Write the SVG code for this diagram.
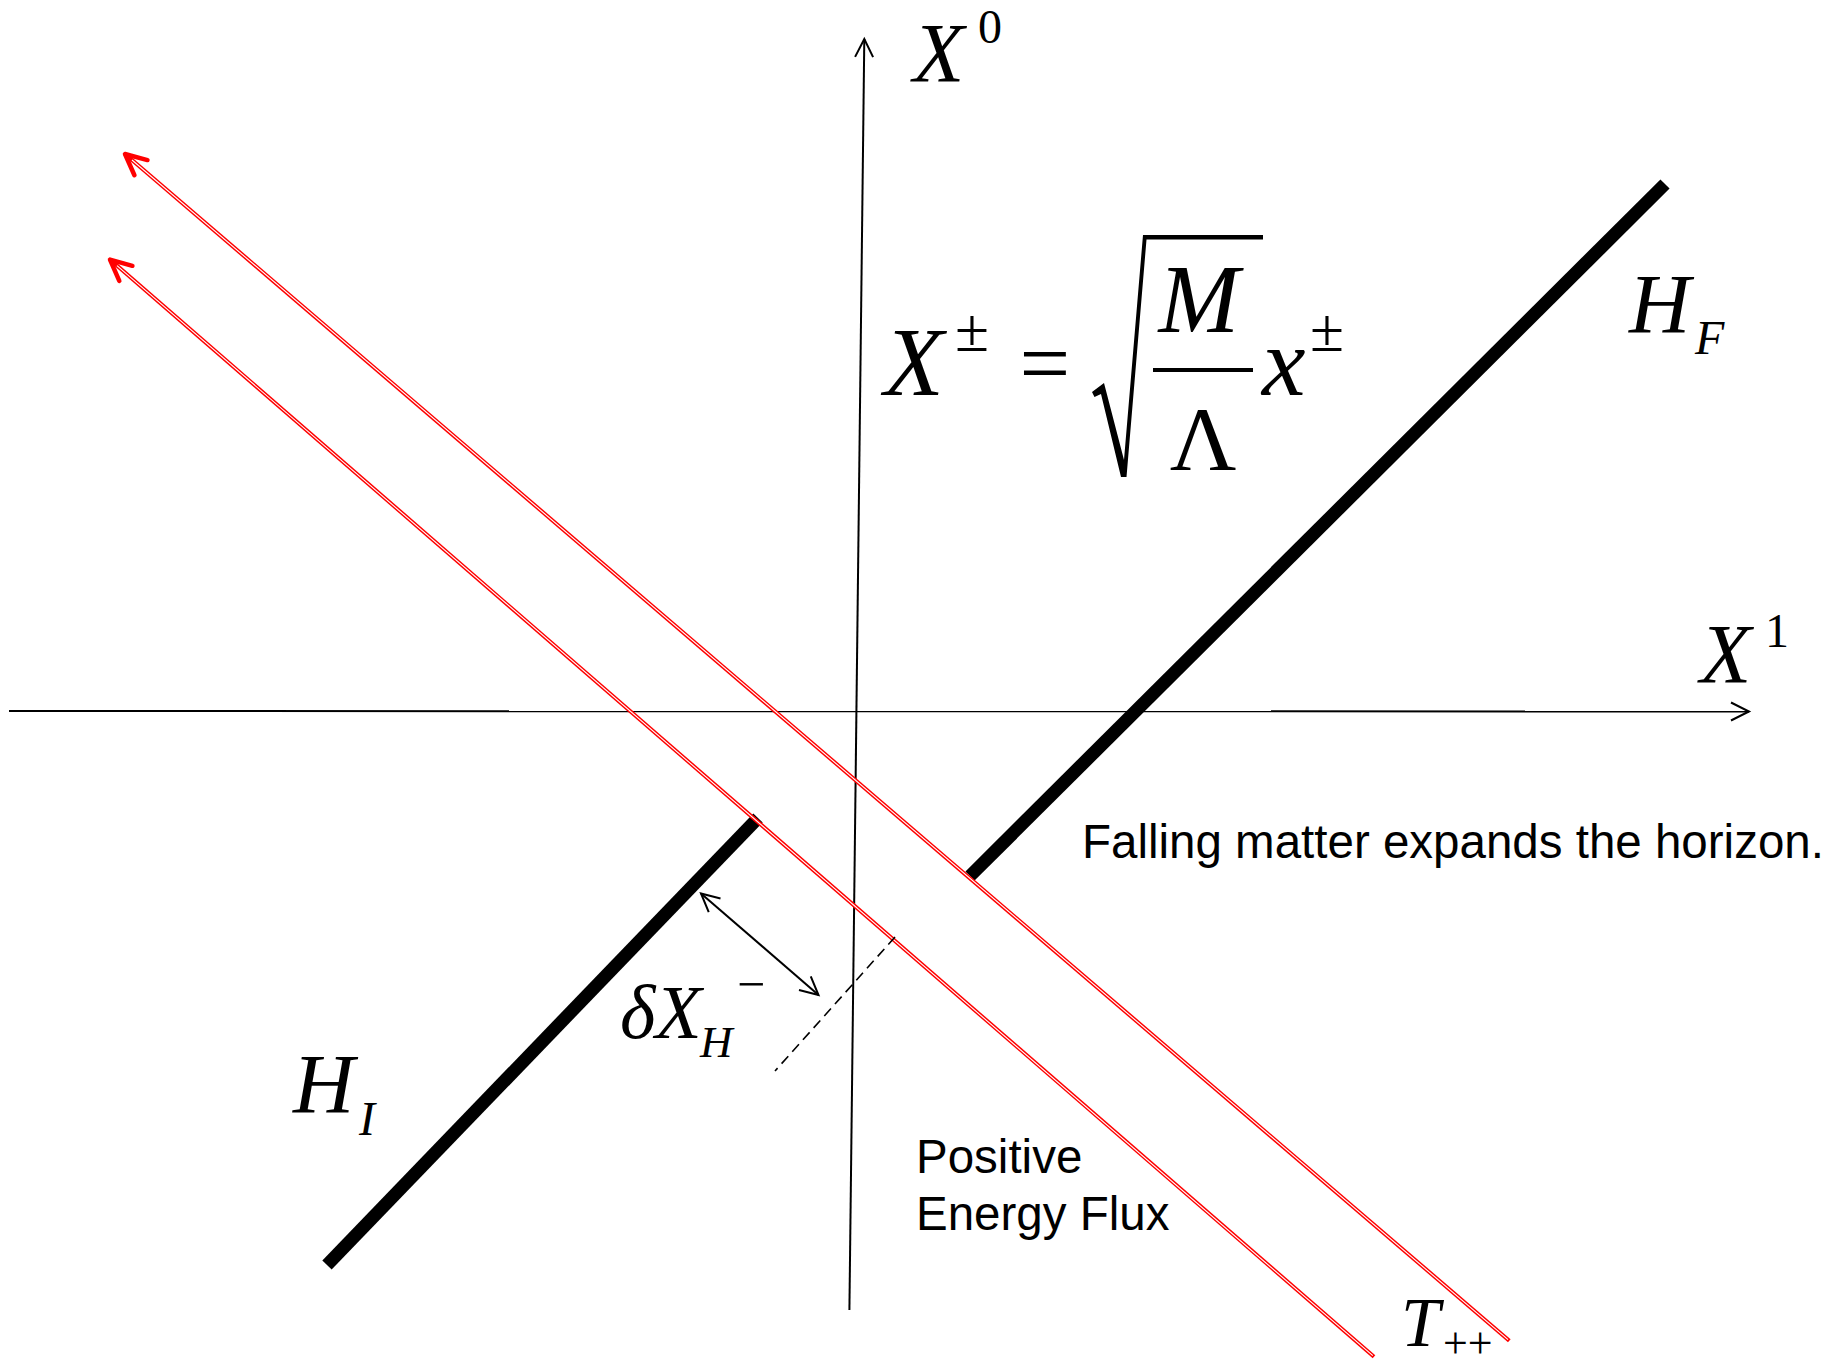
<svg xmlns="http://www.w3.org/2000/svg" width="1837" height="1370" viewBox="0 0 1837 1370">
<style>
.m{font-family:"Liberation Serif","Times New Roman",serif;fill:#000}
.i{font-style:italic}
.s{font-family:"Liberation Sans",Arial,sans-serif;font-size:47.5px;fill:#000}
.ax{stroke:#000;stroke-width:2;fill:none}
.thick{stroke:#000;stroke-width:13;fill:none;stroke-linecap:butt}
.red{stroke:#f00;stroke-width:4;fill:none}
.redc{stroke:#fff;stroke-width:1.1;fill:none}
</style>
<defs>
<marker id="ra" markerUnits="userSpaceOnUse" orient="auto" refX="0" refY="0" markerWidth="60" markerHeight="60" viewBox="-30 -30 60 60" overflow="visible">
<path d="M-21,-10 L0,0 L-21,10" fill="none" stroke="#f00" stroke-width="4.5" stroke-linecap="round" stroke-linejoin="round"/>
</marker>
<marker id="ba" markerUnits="userSpaceOnUse" orient="auto" refX="0" refY="0" markerWidth="60" markerHeight="60" viewBox="-30 -30 60 60" overflow="visible">
<path d="M-18,-9 L0,0 L-18,9" fill="none" stroke="#000" stroke-width="2"/>
</marker>
<marker id="bas" markerUnits="userSpaceOnUse" orient="auto-start-reverse" refX="0" refY="0" markerWidth="60" markerHeight="60" viewBox="-30 -30 60 60" overflow="visible">
<path d="M-18,-9 L0,0 L-18,9" fill="none" stroke="#000" stroke-width="2"/>
</marker>
</defs>
<rect width="1837" height="1370" fill="#fff"/>
<g id="connectors">
<line id="axis-x0" class="ax" x1="849.4" y1="1310" x2="864.3" y2="39" marker-end="url(#ba)"/>
<line id="axis-x1" class="ax" x1="9" y1="711" x2="1749" y2="711.5" marker-end="url(#ba)"/>
<line id="horizon-f" class="thick" x1="970" y1="876" x2="1665" y2="184"/>
<line id="horizon-i" class="thick" x1="327" y1="1265" x2="758" y2="818"/>
<g id="ray-upper">
<line class="red" x1="1509.3" y1="1340.7" x2="125" y2="154" marker-end="url(#ra)"/>
<line class="redc" x1="1508" y1="1339.6" x2="132" y2="160"/>
</g>
<g id="ray-lower">
<line class="red" x1="1374" y1="1356.7" x2="110" y2="259.6" marker-end="url(#ra)"/>
<line class="redc" x1="1372.8" y1="1355.7" x2="117" y2="265.7"/>
</g>
<line id="delta-arrow" class="ax" x1="701" y1="893.5" x2="818.5" y2="995" marker-start="url(#bas)" marker-end="url(#bas)"/>
<line id="dashed" stroke="#000" stroke-width="1.6" stroke-dasharray="10,6" x1="895" y1="937" x2="775" y2="1071"/>
</g>
<g id="label-x0">
<text class="m i" x="913" y="82" font-size="84">X</text>
<text class="m" x="978" y="43" font-size="48">0</text>
</g>
<g id="label-x1">
<text class="m i" x="1700" y="683" font-size="84">X</text>
<text class="m" x="1765" y="647" font-size="48">1</text>
</g>
<g id="equation">
<text class="m i" x="884" y="395" font-size="98">X</text>
<text class="m" x="955" y="351" font-size="62">±</text>
<text class="m" x="1045" y="394" font-size="90" text-anchor="middle">=</text>
<path d="M1092,392 L1104,383 L1124,460 L1143,235 L1263,235 L1263,239.5 L1146.5,239.5 L1126.5,477 L1121,477 L1101,394 L1094.5,397 Z" fill="#000"/>
<text class="m i" x="1199" y="332" font-size="97" text-anchor="middle">M</text>
<rect x="1153" y="368" width="100" height="4" fill="#000"/>
<text class="m" x="1203" y="470" font-size="92" text-anchor="middle">Λ</text>
<text class="m i" x="1262" y="395" font-size="98">x</text>
<text class="m" x="1310" y="351" font-size="62">±</text>
</g>
<g id="label-hf">
<text class="m i" x="1629" y="333" font-size="85">H</text>
<text class="m i" x="1695" y="354" font-size="48">F</text>
</g>
<g id="label-hi">
<text class="m i" x="293" y="1113" font-size="85">H</text>
<text class="m i" x="359" y="1135" font-size="48">I</text>
</g>
<g id="label-dx">
<text class="m i" x="620" y="1038" font-size="76">δX</text>
<text class="m i" x="700" y="1057" font-size="45">H</text>
<text class="m" x="737" y="1001" font-size="50">−</text>
</g>
<g id="label-t">
<text class="m i" x="1401" y="1346" font-size="70">T</text>
<text class="m" x="1443" y="1358" font-size="44">++</text>
</g>
<g id="note-falling">
<text class="s" x="1082" y="858">Falling matter expands the horizon.</text>
</g>
<g id="note-flux">
<text class="s" x="916" y="1173">Positive</text>
<text class="s" x="916" y="1230">Energy Flux</text>
</g>
</svg>
